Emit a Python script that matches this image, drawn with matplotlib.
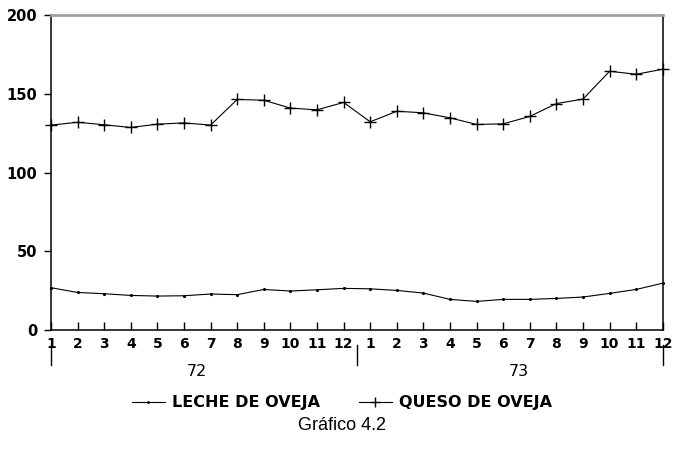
import matplotlib
matplotlib.use("Agg")
import matplotlib.pyplot as plt
import matplotlib.transforms as mtransforms

plt.rcParams['font.family'] = ['DejaVu Sans']

# meses 1..12 de 1972 y 1..12 de 1973
meses = list(range(1, 13)) + list(range(1, 13))
anios = ["72", "73"]
leche = [26.9, 23.9, 23.1, 22.0, 21.6, 21.8, 22.9, 22.5, 25.8, 24.8, 25.6, 26.5,
         26.2, 25.2, 23.5, 19.5, 18.2, 19.5, 19.5, 20.1, 21.0, 23.3, 25.8, 29.8]
queso = [130.2, 132.0, 130.4, 128.7, 130.8, 131.6, 130.2, 146.5, 146.0, 141.0, 139.9, 144.6,
         132.3, 139.0, 138.0, 134.8, 130.6, 131.0, 135.7, 143.9, 146.7, 164.4, 162.5, 165.7]
etiquetas = ["LECHE DE OVEJA", "QUESO DE OVEJA"]

x = list(range(1, len(meses) + 1))

fig = plt.figure(figsize=(6.84, 4.61), dpi=100)
ax = fig.add_axes([0.0746, 0.284, 0.8944, 0.683])

ax.plot(x, leche, color='black', lw=0.8, marker='.', markersize=2.5, label=etiquetas[0], clip_on=False)
ax.plot(x, queso, color='black', lw=0.8, marker='+', markersize=9, markeredgewidth=1.0,
        label=etiquetas[1], clip_on=False)

ax.set_xlim(1, 24)
ax.set_ylim(0, 200)
ax.set_yticks([0, 50, 100, 150, 200])
ax.set_xticks(x)
ax.set_xticklabels([str(m) for m in meses])

for s in ['left', 'right', 'bottom']:
    ax.spines[s].set_color('black')
    ax.spines[s].set_linewidth(1.1)
ax.spines['top'].set_color('#a0a0a0')
ax.spines['top'].set_linewidth(2.0)

ax.tick_params(axis='y', direction='out', length=5, width=1, labelsize=10.5, pad=5)
ax.tick_params(axis='x', direction='in', length=6, width=1, labelsize=10, pad=5)
for lbl in ax.get_xticklabels() + ax.get_yticklabels():
    lbl.set_fontweight('bold')

# separadores y etiquetas de los anios
trans = mtransforms.blended_transform_factory(ax.transData, ax.transAxes)
for xs in [1, 12.5, 24]:
    ax.plot([xs, xs], [-0.048, -0.111], color='black', lw=1.0, transform=trans, clip_on=False)
ax.text(6.5, -0.108, anios[0], transform=trans, ha='center', va='top', fontsize=11.5)
ax.text(18.6, -0.108, anios[1], transform=trans, ha='center', va='top', fontsize=11.5)

leg = fig.legend(loc='center', bbox_to_anchor=(0.5, 0.126), ncol=2, frameon=False,
                 handlelength=2.1, handletextpad=0.45, columnspacing=2.4, markerscale=0.8,
                 prop={'weight': 'bold', 'size': 11.5})

fig.text(0.5, 0.078, "Gráfico 4.2", ha='center', va='center', fontsize=13,
         family='Liberation Sans')

fig.savefig("out.png", dpi=100)
